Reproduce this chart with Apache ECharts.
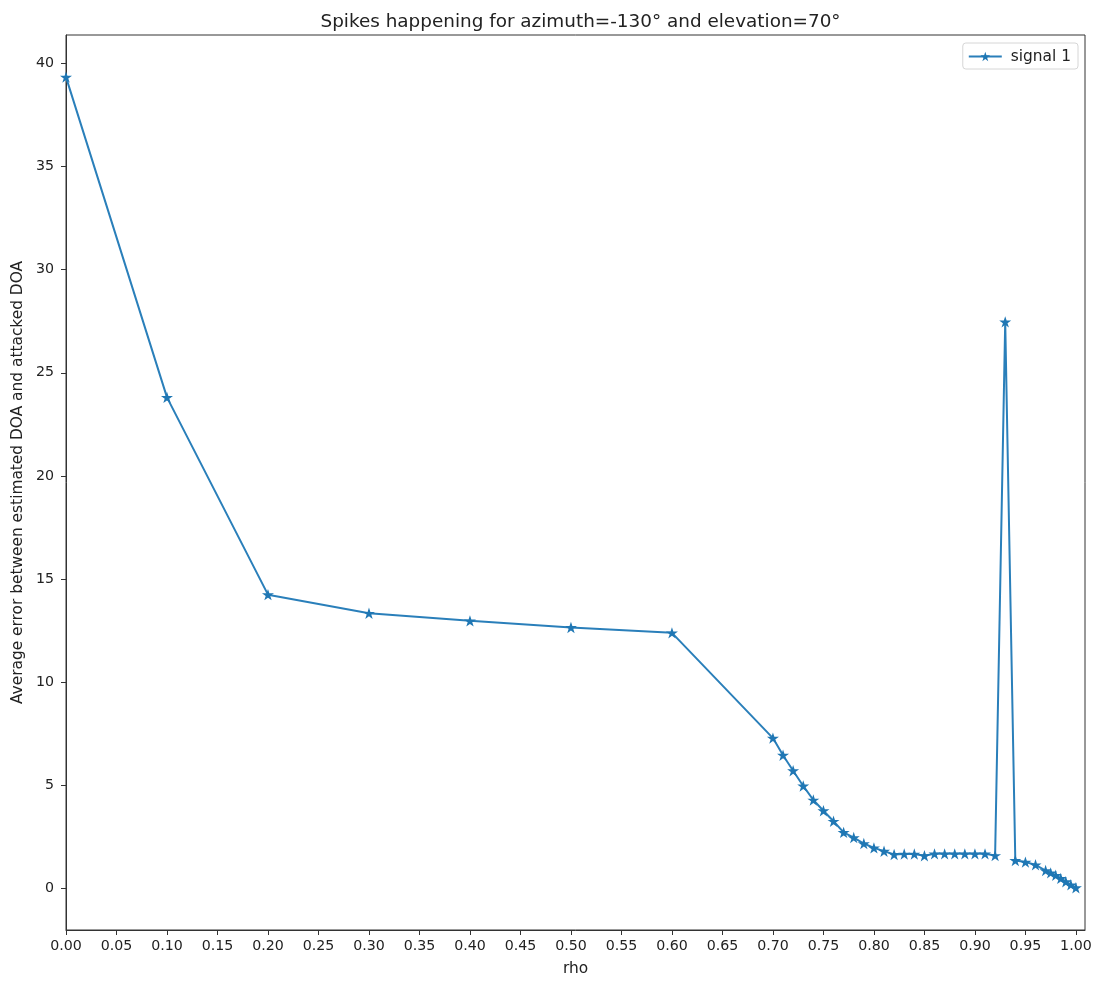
<!DOCTYPE html>
<html>
<head>
<meta charset="utf-8">
<script src="https://cdn.jsdelivr.net/npm/echarts@6/dist/echarts.min.js"></script>
<style>
html,body{margin:0;padding:0;background:#fff;}
#chart{width:1100px;height:983px;}
</style>
</head>
<body>
<div id="chart"></div>
<script>
// ---- data ----
const rho = [0.00, 0.10, 0.20, 0.30, 0.40, 0.50, 0.60,
  0.70, 0.71, 0.72, 0.73, 0.74, 0.75, 0.76, 0.77, 0.78, 0.79,
  0.80, 0.81, 0.82, 0.83, 0.84, 0.85, 0.86, 0.87, 0.88, 0.89,
  0.90, 0.91, 0.92, 0.93, 0.94, 0.95, 0.96,
  0.970, 0.975, 0.980, 0.985, 0.990, 0.995, 1.000];
const signal1 = [39.33, 23.81, 14.25, 13.35, 12.98, 12.66, 12.40,
  7.30, 6.47, 5.72, 4.98, 4.30, 3.78, 3.27, 2.73, 2.48, 2.19,
  1.98, 1.82, 1.66, 1.68, 1.68, 1.60, 1.69, 1.69, 1.69, 1.69,
  1.69, 1.69, 1.61, 27.47, 1.37, 1.29, 1.16,
  0.88, 0.77, 0.65, 0.50, 0.34, 0.19, 0.05];
const xTicks = [0.00, 0.05, 0.10, 0.15, 0.20, 0.25, 0.30, 0.35, 0.40, 0.45, 0.50,
  0.55, 0.60, 0.65, 0.70, 0.75, 0.80, 0.85, 0.90, 0.95, 1.00];
const yTicks = [0, 5, 10, 15, 20, 25, 30, 35, 40];
const titleText = 'Spikes happening for azimuth=-130° and elevation=70°';
const xName = 'rho';
const yName = 'Average error between estimated DOA and attacked DOA';
const seriesName = 'signal 1';

const starPath = 'path://M0,-100L22.45,-30.9L95.1,-30.9L36.3,11.8L58.8,80.9L0,38.2L-58.8,80.9L-36.3,11.8L-95.1,-30.9L-22.45,-30.9Z';
const font = 'DejaVu Sans';
const txt = '#222';

const chart = echarts.init(document.getElementById('chart'), null, {renderer: 'canvas'});
chart.setOption({
  animation: false,
  backgroundColor: '#fff',
  textStyle: {fontFamily: font},
  title: {
    text: titleText,
    left: 575.5,
    textAlign: 'center',
    top: 8,
    textStyle: {fontFamily: font, fontSize: 18.4, fontWeight: 'normal', color: txt}
  },
  legend: {
    right: 22,
    top: 43,
    orient: 'vertical',
    padding: [6, 7, 5, 5],
    itemWidth: 33,
    itemHeight: 12,
    itemGap: 6,
    borderColor: '#d6d6d6',
    borderWidth: 1,
    borderRadius: 3,
    textStyle: {fontFamily: font, fontSize: 15.4, color: txt, padding: [0, 0, 0, 4]},
    data: [seriesName]
  },
  grid: {
    left: 66, right: 15, top: 35, bottom: 53,
    show: true, borderColor: '#333', borderWidth: 1,
    containLabel: false
  },
  xAxis: {
    type: 'value',
    min: 0,
    max: 1.009,
    name: xName,
    nameLocation: 'middle',
    nameGap: 31,
    nameTextStyle: {fontFamily: font, fontSize: 15.4, color: txt},
    axisLine: {show: true, onZero: false, lineStyle: {color: '#333', width: 1}},
    axisTick: {show: true, length: 5, lineStyle: {color: '#333'}, customValues: xTicks},
    axisLabel: {
      fontFamily: font, fontSize: 14.2, color: txt, margin: 9,
      customValues: xTicks,
      formatter: v => v.toFixed(2)
    },
    splitLine: {show: false}
  },
  yAxis: {
    type: 'value',
    min: -2.0,
    max: 41.37,
    name: yName,
    nameLocation: 'middle',
    nameGap: 35,
    nameRotate: 90,
    nameTextStyle: {fontFamily: font, fontSize: 15.4, color: txt},
    axisLine: {show: true, onZero: false, lineStyle: {color: '#333', width: 1}},
    axisTick: {show: true, length: 5, lineStyle: {color: '#333'}, customValues: yTicks},
    axisLabel: {
      fontFamily: font, fontSize: 14.2, color: txt, margin: 12,
      customValues: yTicks,
      formatter: v => String(v)
    },
    splitLine: {show: false}
  },
  series: [{
    name: seriesName,
    type: 'line',
    data: rho.map((x, i) => [x, signal1[i]]),
    color: '#1f77b4',
    lineStyle: {color: '#2a7fba', width: 2},
    itemStyle: {color: '#1f77b4', borderWidth: 0},
    symbol: starPath,
    symbolSize: 12,
    symbolKeepAspect: true,
    showSymbol: true,
    showAllSymbol: true,
    clip: true
  }]
});
</script>
</body>
</html>
